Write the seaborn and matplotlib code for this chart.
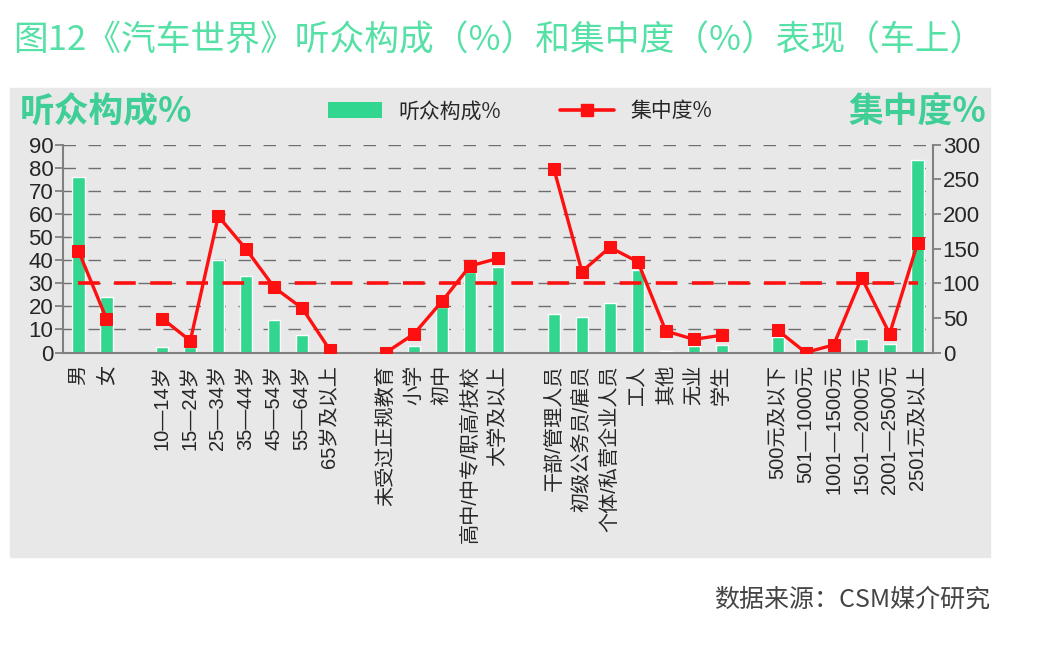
import numpy as np
import pandas as pd
import matplotlib
matplotlib.use("Agg")
import matplotlib.pyplot as plt
import seaborn as sns
from matplotlib.lines import Line2D
from matplotlib.patches import Patch, Rectangle

# categories, grouped (a blank slot is left between groups)
gender = ["男", "女"]
age = ["10—14岁", "15—24岁", "25—34岁", "35—44岁", "45—54岁", "55—64岁", "65岁及以上"]
edu = ["未受过正规教育", "小学", "初中", "高中/中专/职高/技校", "大学及以上"]
job = ["干部/管理人员", "初级公务员/雇员", "个体/私营企业人员", "工人", "其他", "无业", "学生"]
income = ["500元及以下", "501—1000元", "1001—1500元", "1501—2000元", "2001—2500元", "2501元及以上"]

# 听众构成% (left axis)
share_gender = [76, 24]
share_age = [2.4, 2.5, 40, 33, 14, 7.6, 0.2]
share_edu = [0.2, 2.9, 19.8, 34.9, 37]
share_job = [16.7, 15.5, 21.6, 35.9, 0.6, 2.9, 3.3]
share_income = [6.6, 0.3, 0.4, 5.7, 3.7, 83.3]

# 集中度% (right axis)
conc_gender = [147, 49]
conc_age = [49, 17, 197, 149, 94, 64, 3]
conc_edu = [0, 27, 74, 125, 136]
conc_job = [265, 117, 152, 131, 31, 19, 25]
conc_income = [32, 0, 11, 108, 27, 158]

groups = [
    ("gender", gender, share_gender, conc_gender),
    ("age", age, share_age, conc_age),
    ("edu", edu, share_edu, conc_edu),
    ("job", job, share_job, conc_job),
    ("income", income, share_income, conc_income),
]

rows = []
pos = 0
for g, labels, share, conc in groups:
    for lab, s, c in zip(labels, share, conc):
        rows.append({"group": g, "label": lab, "pos": pos, "share": s, "conc": c})
        pos += 1
    pos += 1  # gap between groups
df = pd.DataFrame(rows)

green = "#33d68f"
red = "#ff1010"
tick_fonts = ["Liberation Sans", "Noto Sans CJK SC", "DejaVu Sans"]

sns.set_style("white")
plt.rcParams["font.family"] = ["Noto Sans CJK SC", "DejaVu Sans"]

fig = plt.figure(figsize=(10.4, 6.48), dpi=100)
fig.patches.append(Rectangle((10 / 1040, 1 - 557 / 648), 980 / 1040, 469 / 648,
                             transform=fig.transFigure, color="#e8e8e8", zorder=-10))

ax = fig.add_axes([0.0606, 0.456, 0.8365, 0.3205])
ax.set_facecolor("none")
ax.set_axisbelow(True)
ax.yaxis.grid(True, linestyle=(0, (9, 9)), color="#6e6e6e", linewidth=1.0)

sns.barplot(data=df, x="pos", y="share", native_scale=True, color=green,
            saturation=1, width=0.44, ax=ax, zorder=2)

ax.set_xlim(-0.55, df["pos"].max() + 0.55)
ax.set_ylim(0, 90)
ax.set_yticks(np.arange(0, 91, 10))
ax.set_xticks(df["pos"])
ax.set_xticklabels(df["label"], rotation=90, fontsize=14.5, va="top", family=tick_fonts)
for t in ax.get_yticklabels():
    t.set_family(tick_fonts)
ax.tick_params(axis="x", length=0, pad=9)
ax.tick_params(axis="y", labelsize=16, length=6, width=1.3, color="#808080", pad=1)
ax.set_xlabel("")
ax.set_ylabel("")
for sp in ["top", "right"]:
    ax.spines[sp].set_visible(False)
for sp in ["left", "bottom"]:
    ax.spines[sp].set_color("#808080")
    ax.spines[sp].set_linewidth(1.5)

ax2 = ax.twinx()
ax2.hlines(100, df["pos"].min(), df["pos"].max(), colors=red, linewidth=2.6,
           linestyles=(0, (6, 4)), zorder=3)
for g, sub in df.groupby("group", sort=False):
    sns.lineplot(data=sub, x="pos", y="conc", ax=ax2, color=red, marker="s",
                 markersize=9, markeredgecolor=red, linewidth=2.4, zorder=4)
ax2.set_ylim(0, 300)
ax2.set_yticks(np.arange(0, 301, 50))
for t in ax2.get_yticklabels():
    t.set_family(tick_fonts)
ax2.tick_params(axis="y", labelsize=16, length=6, width=1.3, color="#808080", pad=1)
ax2.set_ylabel("")
ax2.set_xlabel("")
for sp in ["top", "left", "bottom"]:
    ax2.spines[sp].set_visible(False)
ax2.spines["right"].set_color("#808080")
ax2.spines["right"].set_linewidth(1.5)

handles = [
    Patch(facecolor=green, edgecolor="none", label="听众构成%"),
    Line2D([0], [0], color=red, linewidth=2.6, marker="s", markersize=9, label="集中度%"),
]
fig.legend(handles=handles, loc="center", bbox_to_anchor=(0.50, 0.828), ncol=2,
           frameon=False, fontsize=15, handlelength=2.6, handleheight=0.8,
           columnspacing=2.8, handletextpad=0.8)

fig.text(0.019, 0.828, "听众构成%", fontsize=25, fontweight="bold", color="#3fcf96", va="center")
fig.text(0.948, 0.828, "集中度%", fontsize=25, fontweight="bold", color="#3fcf96",
         va="center", ha="right")

fig.text(0.013, 0.937, "图12《汽车世界》听众构成（%）和集中度（%）表现（车上）",
         fontsize=25, fontweight="light", color="#55e0a5", va="center")
fig.text(0.952, 0.074, "数据来源：CSM媒介研究", fontsize=18, color="#444444",
         va="center", ha="right")

fig.savefig("out.png", dpi=100)
